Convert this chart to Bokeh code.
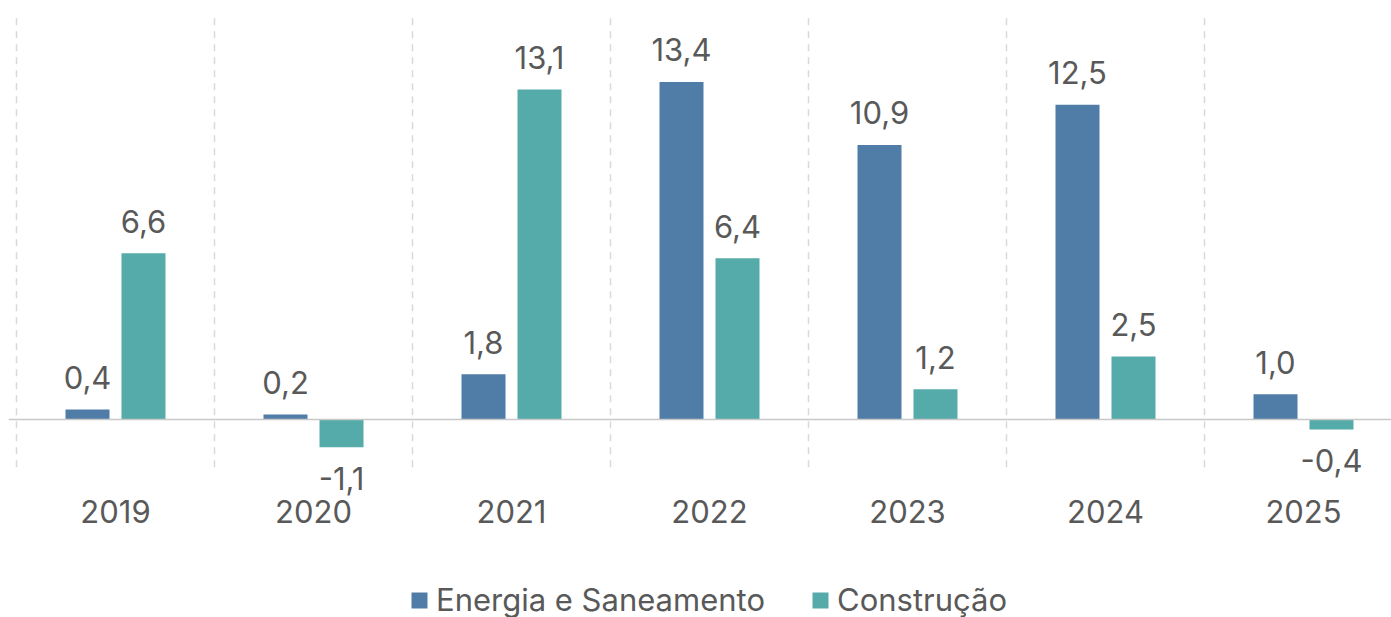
from bokeh.plotting import figure
from bokeh.models import ColumnDataSource, Range1d, FixedTicker, Span, Legend, LegendItem
from bokeh.core.properties import value
from bokeh.transform import dodge
from bokeh.embed import file_html
from bokeh.resources import INLINE

years = ["2019", "2020", "2021", "2022", "2023", "2024", "2025"]
energia = [0.4, 0.2, 1.8, 13.4, 10.9, 12.5, 1.0]
construcao = [6.6, -1.1, 13.1, 6.4, 1.2, 2.5, -0.4]
series_names = ["Energia e Saneamento", "Construção"]
colors = ["#4f7da7", "#55aba9"]

FONT = "Inter"
TXT = "#595959"
FS = "31px"

xpos = [i + 0.5 for i in range(len(years))]
bounds = list(range(len(years) + 1))

def fmt(v):
    return f"{v:.1f}".replace(".", ",")

def make_src(vals):
    return ColumnDataSource(dict(
        x=xpos,
        top=vals,
        label=[fmt(v) for v in vals],
        yoff=[-32 if v >= 0 else 31 for v in vals],
    ))

src_e = make_src(energia)
src_c = make_src(construcao)

PX_X = 198.0   # px per category
PX_Y = 25.19   # px per unit
p = figure(
    frame_width=1383, frame_height=609,
    x_range=Range1d(-8 / PX_X, 1375 / PX_X),
    y_range=Range1d(-198 / PX_Y, 411 / PX_Y),
    output_backend="svg", toolbar_location=None,
    min_border_left=8, min_border_right=0, min_border_top=8, min_border_bottom=0,
)
p.outline_line_color = None
p.background_fill_color = "white"
p.border_fill_color = "white"
p.xgrid.visible = False
p.ygrid.visible = False
p.yaxis.visible = False

# category separators
p.segment(x0=bounds, x1=bounds, y0=-1.9, y1=16, line_color="#d9d9d9",
          line_width=1.5, line_dash="7 6")

off = 0.1414
bw = 44 / PX_X
r_e = p.vbar(x=dodge("x", -off), top="top", bottom=0, width=bw, source=src_e,
             fill_color=colors[0], line_color=None)
r_c = p.vbar(x=dodge("x", off), top="top", bottom=0, width=bw, source=src_c,
             fill_color=colors[1], line_color=None)

for src, o in ((src_e, -off), (src_c, off)):
    p.text(x=dodge("x", o), y="top", text="label", y_offset="yoff", source=src,
           text_align="center", text_baseline="alphabetic",
           text_font=value(FONT), text_font_size=FS, text_color=TXT)

p.add_layout(Span(location=0, dimension="width", line_color="#c8c8c8", line_width=1.6))

ax = p.xaxis[0]
ax.fixed_location = -74 / PX_Y
ax.ticker = FixedTicker(ticks=xpos)
ax.major_label_overrides = {x: y for x, y in zip(xpos, years)}
ax.axis_line_color = None
ax.major_tick_line_color = None
ax.minor_tick_line_color = None
ax.major_tick_out = 0
ax.major_tick_in = 0
ax.major_label_standoff = 6
ax.major_label_text_font = FONT
ax.major_label_text_font_size = FS
ax.major_label_text_color = TXT

legend = Legend(
    items=[LegendItem(label=series_names[0], renderers=[r_e]),
           LegendItem(label=series_names[1], renderers=[r_c])],
    orientation="horizontal", location=(401, -1),
    label_text_font=FONT, label_text_font_size=FS, label_text_color=TXT,
    glyph_width=20, glyph_height=20, label_standoff=7, spacing=45,
    padding=0, margin=0, border_line_color=None, background_fill_alpha=0,
)
p.add_layout(legend)

open("out.html", "w").write(file_html(p, INLINE))
